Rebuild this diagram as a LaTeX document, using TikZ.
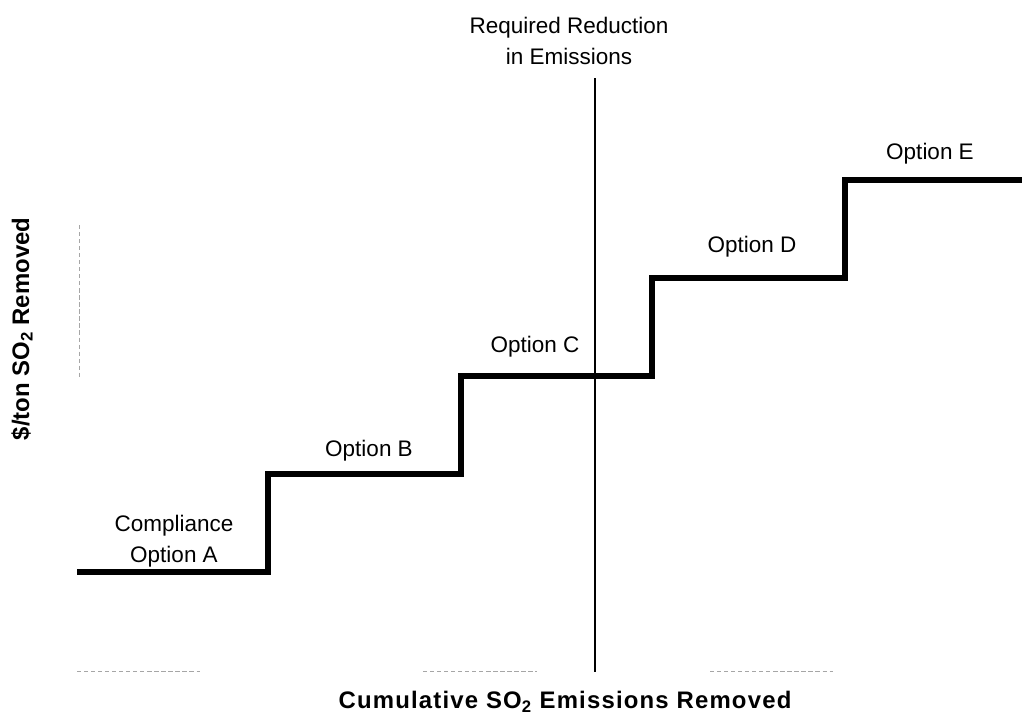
\documentclass[tikz,border=0pt]{standalone}
\usepackage{fontspec}
\setmainfont{Liberation Sans}
\newfontfamily\axfont[LetterSpace=5]{Liberation Sans}
\tikzset{
    optlabel/.style={font=\fontsize{16}{22.5}\selectfont, align=center},
    axlabel/.style={font=\fontsize{17}{20}\selectfont\bfseries},
    faint/.style={gray!70, line width=0.3pt, densely dashed}
}
\begin{document}
\begin{tikzpicture}[x=0.025cm, y=-0.025cm]
    \useasboundingbox (0,0) rectangle (1022,719);

    % remnants of the axes
    \draw[faint] (79,225) -- (79,378);
    \draw[faint] (77,671) -- (200,671);
    \draw[faint] (423,671) -- (537,671);
    \draw[faint] (710,671) -- (833,671);

    % required reduction
    \node[optlabel] at (569,41) (R) {Required Reduction\\in Emissions};
    \coordinate (Rtop) at (595,78);
    \coordinate (Rbot) at (595,672);
    \draw[line width=1.3pt] (Rtop) -- (Rbot);

    % cost steps
    \draw[line width=3.6pt, line join=miter] (77,572) -- (268,572) -- (268,474) -- (461,474) -- (461,376)
        -- (652,376) -- (652,278) -- (845,278) -- (845,180) -- (1022,180);

    \node[optlabel] at (174,541) (A) {Compliance\\Option A};
    \node[optlabel] at (369,451) (B) {Option B};
    \node[optlabel] at (535,347) (C) {Option C};
    \node[optlabel] at (752,247) (D) {Option D};
    \node[optlabel] at (930,154) (E) {Option E};

    \node[axlabel, rotate=90] at (22,329) (Y) {\$/ton SO\textsubscript{2} Removed};
    \node[axlabel] at (565,702) (X) {\axfont\bfseries Cumulative SO\textsubscript{2} Emissions Removed};
\end{tikzpicture}
\end{document}
